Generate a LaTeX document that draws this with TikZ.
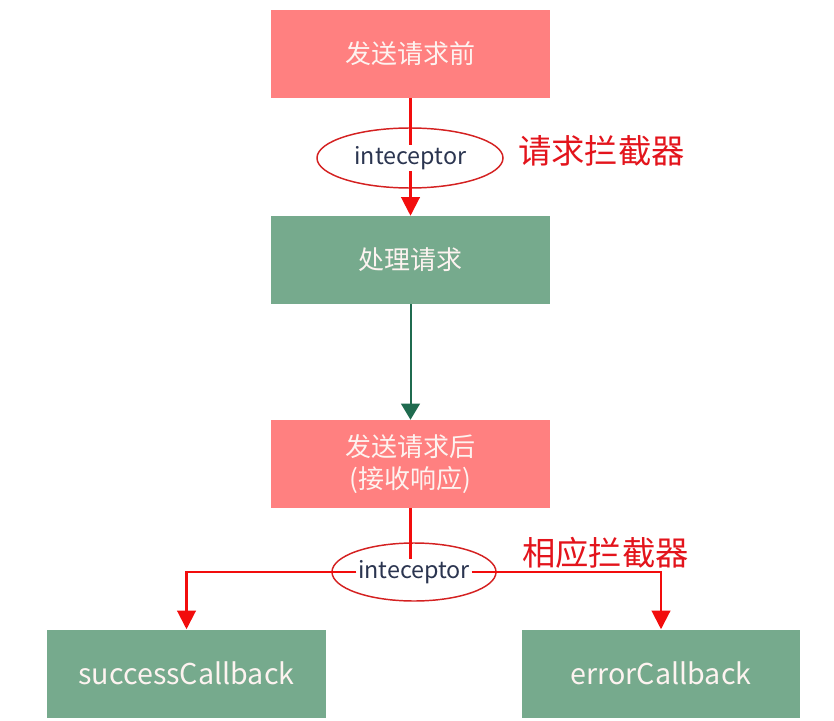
\documentclass[tikz,border=0pt]{standalone}
\usepackage{fontspec}
\setmainfont{Noto Sans CJK SC}
\usetikzlibrary{shapes.geometric,arrows.meta}
\definecolor{ReqPink}{HTML}{FF8080}
\definecolor{ReqGreen}{HTML}{76AA8D}
\definecolor{ArrGreen}{HTML}{1F6B4F}
\definecolor{ArrRed}{HTML}{F20D0D}
\definecolor{RingRed}{HTML}{D42121}
\definecolor{TagRed}{HTML}{E3141C}
\definecolor{IcText}{HTML}{2B3550}
\definecolor{BoxText}{HTML}{FDF3F0}
\tikzset{
  stagebox/.style={minimum width=209pt,minimum height=66pt,inner sep=0pt,
    align=center,text=BoxText,font=\fontsize{19.5}{24}\selectfont},
  cbbox/.style={stagebox,fill=ReqGreen,font=\fontsize{21.5}{26}\selectfont},
  icring/.style={ellipse,draw=RingRed,line width=1.1pt,inner sep=0pt},
  ictext/.style={fill=white,inner sep=1pt,text=IcText,font=\fontsize{17.5}{21}\selectfont},
  tagtext/.style={anchor=west,inner sep=0pt,text=TagRed,font=\fontsize{25}{30}\selectfont},
  redflow/.style={ArrRed,line width=1.6pt},
  redtip/.style={redflow,-{Triangle[width=14pt,length=14pt]}},
  greentip/.style={ArrGreen,line width=1.5pt,-{Triangle[width=14pt,length=12pt]}}
}
\begin{document}
\begin{tikzpicture}[x=0.75pt,y=-0.75pt]
\path[use as bounding box] (0,0) rectangle (834,720);
% stages
\node[stagebox,fill=ReqPink] (before) at (410.5,54) {发送请求前};
\node[stagebox,fill=ReqGreen] (handle) at (410.5,260) {处理请求};
\node[stagebox,fill=ReqPink] (after) at (410.5,464) {发送请求后\\(接收响应)};
\node[cbbox] (success) at (186.5,673.5) {successCallback};
\node[cbbox] (error) at (661,673.5) {errorCallback};
% request interceptor
\node[icring,minimum width=139.5pt,minimum height=45pt] (reqring) at (410,158) {};
\draw[redflow] (before.south) -- (before.south |- reqring.center) coordinate (reqmid);
\node[ictext] (reqic) at (reqmid) {inteceptor};
\draw[redtip] (reqic.south -| before.south) -- (handle.north);
\node[tagtext] (reqtag) at (518,151) {请求拦截器};
% handle -> after
\draw[greentip] (handle.south) -- (after.north);
% response interceptor
\node[icring,minimum width=123pt,minimum height=43.5pt] (respring) at (414,572) {};
\draw[redflow] (after.south) -- (after.south |- respring.center);
\node[ictext] (respic) at (respring.center) {inteceptor};
\draw[redtip] (respic.west) -| (success.north);
\draw[redtip] (respic.east) -| (error.north);
\node[tagtext] (resptag) at (522,553) {相应拦截器};
\end{tikzpicture}
\end{document}
